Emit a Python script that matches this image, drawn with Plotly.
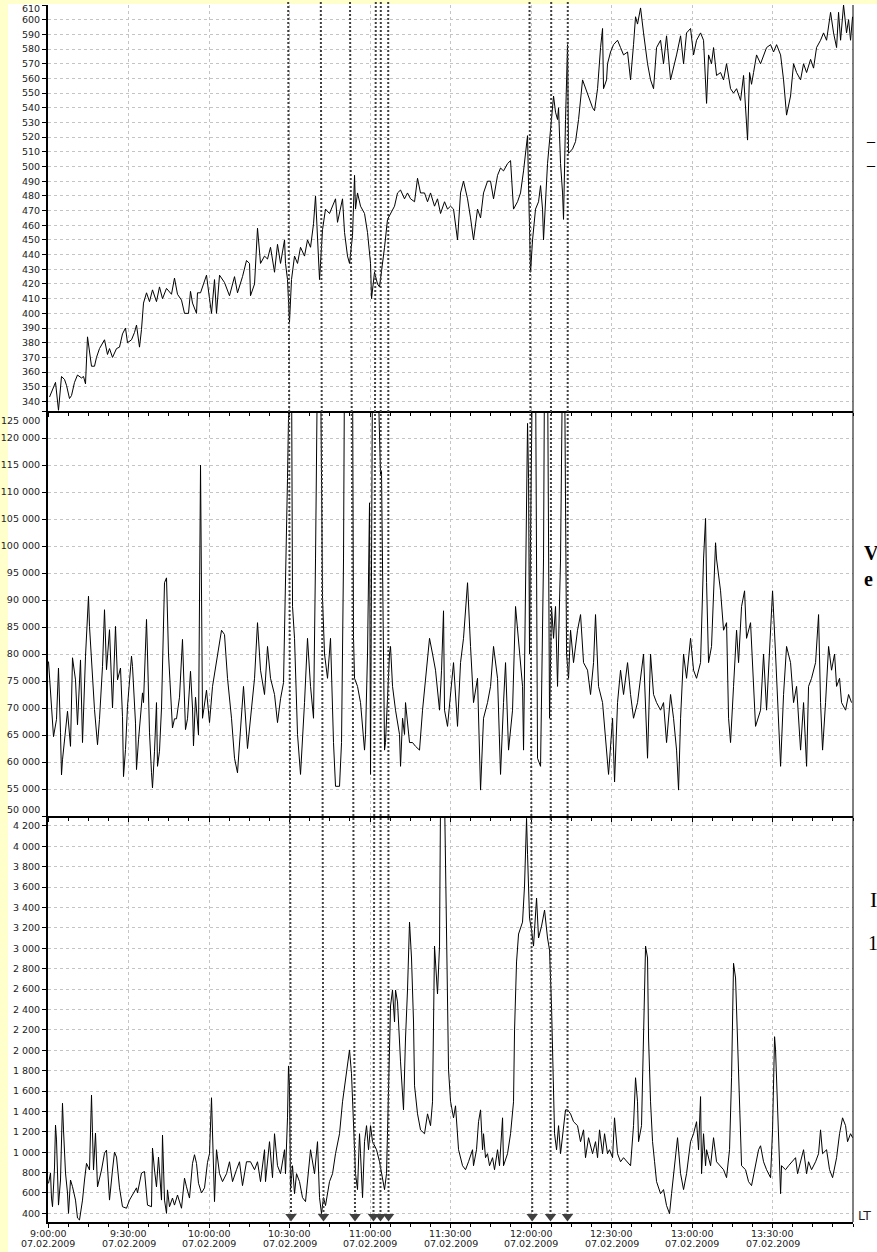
import plotly.graph_objects as go
import pandas as pd

BASE = pd.Timestamp("2009-02-07 09:00:00")

# ---- data: minutes after 9:00 and values ----
top_t = [0.56, 2.80, 3.91, 5.03, 6.15, 6.89, 8.01, 8.76, 9.88, 10.99, 12.48, 13.23, 13.98, 14.72, 16.21, 17.33,
         18.07, 19.19, 21.06, 22.17, 22.92, 24.04, 25.53, 26.65, 27.76, 28.88, 29.63, 31.12, 32.24, 32.98, 34.10,
         34.84, 35.59, 36.71, 37.83, 38.94, 40.43, 41.55, 42.67, 44.16, 46.02, 47.14, 48.26, 49.75, 50.87, 52.36,
         53.11, 53.85, 55.34, 55.71, 56.84, 57.95, 59.07, 60.19, 60.93, 62.05, 62.80, 63.92, 65.78, 67.64, 69.51,
         70.62, 72.49, 73.98, 75.10, 75.47, 76.97, 78.08, 79.20, 80.69, 81.81, 82.93, 84.42, 85.53, 86.66, 88.15,
         88.51, 89.26, 90.00, 90.75, 91.87, 92.99, 94.11, 95.60, 96.71, 97.84, 98.95, 99.70, 100.44, 101.19, 102.31,
         103.42, 104.91, 106.04, 107.15, 107.89, 109.02, 109.76, 110.51, 111.62, 112.37, 113.49, 114.24, 114.60,
         115.35, 116.47, 117.96, 119.08, 120.20, 120.57, 121.69, 122.80, 123.55, 123.93, 124.67, 125.42, 126.53,
         127.65, 129.14, 130.26, 131.38, 132.87, 133.98, 135.11, 136.60, 137.71, 138.83, 140.32, 141.44, 142.56,
         144.05, 145.16, 146.29, 147.78, 148.89, 150.01, 151.13, 152.62, 153.74, 154.85, 156.35, 157.47, 158.58,
         160.07, 161.20, 162.31, 163.80, 164.92, 166.04, 167.53, 168.65, 169.76, 171.25, 172.38, 173.49, 174.98,
         176.10, 177.22, 178.71, 179.09, 179.83, 180.58, 181.69, 182.81, 183.56, 184.30, 184.67, 186.16, 187.28,
         188.40, 189.14, 189.89, 190.27, 191.01, 191.76, 192.12, 192.87, 193.62, 193.99, 195.48, 196.60, 197.72,
         199.21, 200.32, 201.45, 202.94, 203.68, 204.80, 205.92, 206.67, 207.03, 208.16, 208.52, 209.65, 210.76,
         212.25, 213.37, 214.49, 215.98, 217.10, 218.21, 218.96, 219.70, 220.83, 221.94, 223.43, 224.55, 225.67,
         226.79, 228.28, 229.39, 230.52, 232.01, 233.12, 234.25, 235.74, 236.85, 237.97, 239.46, 240.58, 241.70,
         243.19, 244.30, 245.43, 246.17, 247.28, 248.03, 249.15, 250.64, 251.76, 252.88, 254.37, 255.48, 256.61,
         258.10, 259.21, 259.96, 260.70, 261.45, 262.19, 262.94, 264.06, 265.55, 266.67, 267.79, 269.28, 270.39,
         271.52, 273.01, 274.12, 275.24, 276.73, 277.85, 278.97, 280.46, 281.57, 282.70, 284.19, 285.30, 286.42,
         287.91, 289.03, 290.15, 291.64, 292.75, 293.88, 294.62, 295.37, 296.48, 297.60, 298.35, 299.09, 299.84]
top_v = [343, 353, 334, 357, 355, 351, 342, 344, 353, 358, 356, 357, 352, 384, 364, 364,
         370, 376, 382, 372, 376, 370, 376, 377, 386, 390, 380, 382, 387, 392, 377,
         389, 407, 414, 408, 416, 408, 418, 410, 417, 413, 424, 413, 409, 400, 400,
         415, 407, 400, 414, 414, 420, 426, 410, 400, 423, 400, 426, 421, 412, 425,
         414, 425, 436, 434, 412, 420, 458, 434, 439, 437, 445, 428, 447, 434, 450,
         434, 423, 394, 423, 439, 434, 445, 439, 450, 445, 461, 480, 450, 423, 457,
         471, 468, 473, 478, 462, 471, 478, 455, 439, 434, 453, 494, 471,
         482, 473, 468, 455, 434, 410, 428, 420, 418, 423, 434, 445, 464,
         468, 473, 482, 484, 478, 482, 478, 476, 492, 482, 482, 476, 482,
         473, 478, 468, 476, 471, 473, 471, 450, 482, 490, 478, 465, 450,
         471, 465, 482, 490, 490, 478, 494, 499, 497, 502, 504, 471, 476,
         482, 497, 521, 487, 428, 450, 471, 476, 487, 471, 450, 502, 524,
         548, 537, 532, 540, 502, 482, 464, 532, 583, 509, 512, 517, 532,
         559, 553, 548, 540, 538, 553, 581, 594, 553, 559, 570, 578, 583,
         586, 581, 576, 578, 559, 583, 602, 597, 608, 591, 570, 559, 553,
         581, 586, 570, 589, 559, 567, 576, 589, 570, 591, 594, 576, 586,
         591, 586, 543, 576, 570, 581, 562, 564, 559, 570, 553, 550, 553,
         545, 562, 543, 518, 564, 556, 564, 576, 570, 576, 581, 583, 578,
         583, 576, 559, 535, 548, 570, 564, 559, 570, 564, 573, 567, 581,
         586, 591, 586, 605, 591, 581, 605, 586, 610, 591, 600, 586, 602]

mid_t = [0.19, 0.93, 1.30, 2.05, 3.17, 3.54, 3.91, 4.66, 5.03, 5.40, 6.89, 7.27, 8.39, 8.76, 9.13, 10.25, 10.99,
         12.11, 12.48, 12.86, 13.98, 15.09, 15.47, 16.58, 17.33, 18.45, 19.19, 20.31, 21.06, 21.80, 22.92, 24.04,
         25.16, 25.90, 27.02, 27.76, 28.14, 28.88, 29.63, 31.12, 31.49, 32.61, 32.98, 33.73, 35.22, 35.59, 36.71,
         37.08, 37.83, 38.57, 38.94, 39.69, 40.43, 40.81, 41.55, 42.30, 43.42, 44.16, 44.91, 46.39, 47.14, 47.89,
         49.01, 50.12, 50.87, 51.24, 51.99, 53.11, 53.85, 54.22, 54.97, 56.09, 56.84, 57.58, 59.07, 60.19, 61.31,
         62.80, 64.66, 65.78, 66.90, 68.39, 69.51, 70.62, 72.12, 72.86, 74.35, 75.47, 76.97, 78.08, 79.20, 80.69,
         81.81, 82.93, 84.42, 85.53, 86.66, 87.77, 88.51, 89.26, 90.00, 90.75, 91.13, 91.87, 92.99, 94.11, 95.60,
         96.71, 97.84, 98.95, 99.70, 100.44, 101.56, 102.31, 103.05, 104.17, 105.29, 106.40, 107.15, 108.64,
         109.39, 110.13, 110.51, 113.49, 113.86, 114.24, 115.35, 116.47, 117.96, 118.33, 119.08, 119.82, 120.20,
         120.94, 122.80, 123.93, 124.29, 124.67, 125.42, 125.78, 126.53, 127.27, 127.65, 128.40, 129.51, 131.00,
         131.38, 132.13, 132.87, 133.24, 134.73, 135.85, 136.97, 138.46, 139.58, 140.69, 142.18, 143.31, 144.42,
         145.91, 146.66, 147.40, 147.78, 148.89, 150.01, 151.13, 152.62, 153.74, 154.85, 156.35, 157.47, 158.58,
         160.07, 161.20, 162.31, 163.80, 164.92, 166.04, 167.53, 168.65, 169.76, 170.51, 171.63, 173.12, 174.24,
         175.36, 176.85, 177.22, 177.96, 178.71, 179.09, 179.45, 179.83, 180.58, 181.69, 182.43, 183.56, 184.67,
         185.05, 186.16, 186.91, 187.65, 188.40, 189.14, 189.89, 191.01, 191.76, 192.50, 193.25, 193.99, 194.74,
         195.85, 197.34, 198.47, 199.58, 201.07, 202.19, 203.31, 204.05, 205.17, 206.67, 207.78, 208.90, 210.39,
         211.14, 212.25, 213.37, 214.49, 215.98, 217.10, 218.21, 219.70, 220.83, 221.94, 223.43, 224.55, 225.67,
         226.79, 228.28, 229.39, 230.52, 232.01, 233.12, 234.25, 234.99, 235.74, 236.85, 237.97, 239.46, 240.58,
         241.70, 243.19, 244.30, 245.05, 245.43, 246.17, 247.28, 248.78, 249.15, 250.64, 251.76, 252.88, 253.63,
         254.37, 255.48, 256.61, 257.35, 258.47, 259.59, 260.33, 261.82, 262.94, 263.68, 265.55, 266.67, 267.79,
         269.28, 270.02, 271.14, 272.26, 273.01, 274.12, 275.24, 276.73, 277.85, 278.97, 280.46, 281.57, 282.70,
         283.44, 284.55, 286.05, 287.17, 287.91, 288.66, 289.77, 290.90, 292.01, 293.13, 293.88, 294.99, 295.74,
         297.23, 298.35, 299.46]
mid_v = [78600, 72800, 68400, 64700, 67900, 74000, 77400, 65400, 57600, 60400, 67900, 69400, 62900, 71200, 79300,
         75200, 66900, 78900, 71000, 63600, 79600, 90700, 85100, 75800, 69700, 63200, 67900, 77700, 88200, 77100,
         84500, 70000, 85100, 75200, 77400, 68400, 57300, 62300, 70300, 79600, 77700, 67200, 58600, 64100, 72800,
         71000, 86400, 80000, 65400, 58000, 55200, 62000, 71000, 59200, 62000, 70000, 93200, 94100, 80000, 66300,
         68000, 68000, 72000, 82700, 73000, 66000, 68000, 76800, 70000, 63000, 72000, 65000, 115000, 68100, 73300,
         67300, 74000, 78400, 84400, 83600, 75500, 68100, 60700, 58000, 68100, 74000, 62500, 68100, 75500, 85800,
         77000, 72500, 81400, 75500, 72500, 67300, 71700, 74700, 97600, 112500, 135000, 135000, 88800, 82900, 65100,
         57700, 71000, 82900, 74000, 68100, 97600, 135000, 135000, 90300, 80000, 75500, 82900, 63600, 55500, 55500,
         63600, 97600, 135000, 135000, 82900, 75500, 74000, 71000, 62200, 65100, 80000, 108000, 57700,
         135000, 135000, 113200, 113900, 97600, 62200, 63600, 72500, 80000, 81400, 74000, 69600, 65100,
         59200, 68100, 65100, 71000, 63600, 63600, 62900, 62200, 69600, 75500, 82900, 80000, 77000,
         69600, 77000, 88000, 69600, 66600, 72500, 78400, 66600, 78400, 82900, 93200, 81400, 71000,
         75500, 54800, 68100, 71000, 74000, 81400, 75500, 57700, 71000, 78400, 62200, 69600, 88800,
         82900, 74000, 62200, 97600, 122700, 112500, 80000, 102100, 135000, 135000, 60700, 59200, 97600,
         135000, 135000, 68100, 88800, 82900, 88800, 74000, 97600, 135000, 135000, 80000, 75500, 84400,
         78400, 84400, 87300, 78400, 77000, 72500, 78400, 87300, 74000, 71000, 63600, 57700, 68100,
         56300, 71000, 77000, 72500, 78400, 72500, 68100, 71000, 75500, 80000, 60700, 80000, 72500,
         71000, 69600, 71000, 63600, 72500, 68100, 62200, 54800, 68100, 80000, 75500, 82900, 77000,
         75500, 78400, 97600, 105100, 93200, 78400, 81400, 100600, 97600, 91700, 84400, 85800, 68100,
         63600, 74000, 84400, 78400, 88800, 91700, 82900, 85800, 74000, 66600, 69600, 80000, 69600,
         82900, 91700, 80000, 68100, 59200, 72500, 81400, 78400, 71000, 74000, 62200, 71000, 59200,
         74000, 75500, 78400, 87300, 71000, 62200, 71000, 81400, 77000, 80000, 74000, 75500, 71000,
         69600, 72500, 71000]

bot_t = [0.19, 0.93, 1.30, 1.68, 2.42, 2.80, 3.17, 3.54, 3.91, 4.66, 5.03, 5.40, 5.78, 6.52, 7.27, 7.64, 8.39,
         9.13, 10.25, 10.99, 11.74, 12.86, 13.61, 14.35, 15.47, 15.84, 16.21, 16.58, 16.96, 17.70, 18.45, 19.94,
         21.06, 21.80, 22.92, 24.04, 24.78, 25.53, 26.65, 27.76, 29.25, 30.37, 31.49, 32.98, 33.35, 34.84, 35.96,
         37.08, 38.57, 38.94, 39.69, 40.43, 41.18, 42.30, 42.67, 43.42, 44.16, 44.53, 45.28, 46.39, 47.14, 48.26,
         49.75, 50.87, 51.61, 52.73, 53.85, 54.60, 55.34, 56.09, 57.21, 58.33, 59.44, 60.19, 60.93, 61.31, 62.05,
         62.80, 63.92, 65.04, 66.53, 67.64, 68.77, 70.26, 71.37, 72.49, 73.98, 75.47, 76.97, 78.08, 79.20, 80.69,
         81.06, 82.55, 83.67, 84.42, 85.53, 86.66, 88.15, 88.51, 89.26, 89.63, 90.00, 90.38, 91.12, 91.87, 92.62,
         93.73, 94.85, 95.97, 97.09, 97.84, 99.33, 100.44, 101.19, 101.93, 102.68, 103.42, 104.91, 106.04, 107.15,
         108.64, 109.76, 111.62, 112.37, 113.11, 113.86, 114.60, 115.35, 116.09, 116.47, 117.22, 117.96, 118.71,
         119.45, 120.20, 120.94, 121.69, 122.43, 123.55, 124.67, 125.42, 126.16, 126.91, 127.65, 128.39, 129.14,
         129.51, 130.26, 131.38, 132.49, 133.24, 133.98, 134.73, 135.47, 136.22, 136.60, 137.71, 138.83, 140.32,
         141.44, 142.56, 143.30, 144.05, 144.80, 145.16, 145.91, 146.29, 147.78, 148.52, 149.27, 150.01, 151.13,
         151.87, 153.00, 154.49, 155.60, 156.72, 158.21, 158.58, 159.70, 160.45, 161.20, 161.94, 162.31, 163.05,
         163.80, 164.55, 165.67, 166.41, 167.53, 168.27, 169.40, 169.76, 171.25, 172.38, 173.49, 173.87, 174.61,
         175.36, 176.84, 177.59, 178.34, 178.71, 179.45, 180.20, 180.94, 182.07, 182.81, 183.93, 185.05, 186.16,
         186.91, 187.65, 188.40, 188.78, 189.52, 190.27, 191.01, 191.76, 192.87, 193.62, 194.74, 195.85, 197.34,
         198.46, 199.58, 200.32, 201.45, 202.94, 204.05, 204.80, 205.54, 206.67, 207.41, 208.52, 209.27, 210.39,
         211.13, 212.25, 213.37, 214.49, 215.98, 217.10, 218.21, 218.96, 219.70, 220.08, 221.19, 221.94, 222.69,
         223.43, 223.81, 224.55, 225.30, 226.05, 226.79, 228.28, 229.39, 230.52, 231.63, 232.38, 233.87, 234.61,
         235.74, 236.85, 237.97, 239.46, 240.58, 241.70, 242.44, 243.19, 243.56, 244.30, 245.05, 245.43, 246.92,
         248.03, 249.15, 250.64, 251.76, 252.88, 253.99, 254.74, 255.48, 256.23, 256.61, 257.72, 258.47, 259.96,
         261.08, 262.19, 263.68, 264.81, 265.55, 266.67, 267.79, 269.28, 270.02, 270.77, 271.14, 271.88, 272.63,
         273.01, 273.37, 274.86, 275.99, 277.10, 278.59, 279.34, 280.46, 281.57, 282.70, 283.44, 284.56, 286.05,
         287.16, 287.91, 288.66, 290.15, 291.26, 292.39, 293.88, 294.99, 296.11, 297.23, 297.97, 299.09, 299.84]
bot_v = [694, 795, 550, 465, 845, 1266, 1120, 695, 481, 727, 1090, 1480, 1218, 795, 600, 400, 727,
         661, 530, 354, 335, 530, 727, 890, 825, 1190, 1561, 1190, 825, 1187, 660, 825,
         990, 1020, 530, 825, 1000, 952, 650, 465, 450, 530, 580, 650, 600, 795, 810,
         481, 465, 1040, 825, 660, 952, 530, 1168, 530, 400, 630, 465, 550, 481, 580,
         450, 745, 660, 550, 890, 975, 890, 695, 600, 650, 900, 985, 1534, 1181, 515,
         1024, 789, 711, 789, 906, 711, 828, 906, 672, 906, 906, 828, 906, 711, 1024,
         711, 1103, 750, 1181, 867, 789, 1024, 789, 1337, 1846, 1651, 633, 867, 593, 789,
         711, 554, 515, 789, 1024, 789, 1103, 554, 397, 554, 476, 711, 789, 985,
         1181, 1494, 1846, 2003, 1769, 1260, 789, 633, 1181, 985, 554, 1103, 1260,
         1024, 1260, 1103, 1063, 1024, 906, 750, 633, 789, 1494, 2434, 2591, 2277,
         2591, 2474, 1886, 1415, 2120, 2591, 3257, 2905, 2277, 1651, 1376, 1219, 1181,
         1376, 1260, 1494, 3022, 2670, 2552, 3022, 4500, 4500, 2905, 1807, 1500, 1337,
         1455, 1024, 867, 828, 906, 1024, 867, 1024, 1299, 1415, 1024, 1181, 946,
         985, 867, 946, 828, 1024, 867, 1337, 867, 985, 1181, 1494, 2199, 2866,
         3140, 3257, 3611, 4275, 3923, 3296, 3180, 3022, 3493, 3101, 3218, 3375, 3101,
         2983, 2434, 1494, 1181, 1024, 1260, 985, 1181, 1415, 1415, 1376, 1299, 1260,
         1103, 1219, 946, 1142, 985, 1103, 946, 1219, 985, 1181, 985, 1024, 946,
         1337, 985, 906, 946, 906, 867, 1260, 1730, 1494, 1103, 1260, 2120, 3022,
         2905, 2120, 1494, 1103, 906, 711, 593, 633, 476, 397, 593, 946, 1142,
         789, 633, 789, 1103, 1181, 1299, 1024, 1545, 789, 1181, 867, 1024, 867,
         1142, 906, 867, 828, 750, 1024, 1730, 2853, 2709, 2395, 1572, 867, 828,
         711, 672, 867, 1024, 1063, 906, 828, 750, 1219, 2133, 2003, 1494, 946,
         593, 867, 828, 867, 906, 946, 789, 906, 1024, 789, 906, 828, 906,
         985, 1219, 985, 1024, 828, 750, 946, 1181, 1337, 1260, 1103, 1181, 1142]

# marked events (minutes after 9:00): where each dotted marker line starts (top) and ends (arrow)
event_top_t = [89.51, 101.67, 112.55, 122.16, 124.03, 126.78, 179.45, 187.53, 193.71]
event_bot_t = [90.56, 102.67, 114.41, 121.30, 123.91, 126.90, 180.45, 187.27, 193.60]

# axis settings (values)
top_ticks = list(range(340, 611, 10))
mid_ticks = list(range(50000, 125001, 5000))
bot_ticks = list(range(400, 4201, 200))
x_ticks_min = list(range(0, 271, 30))
TOP_RANGE = [333.5, 610]
MID_RANGE = [50000, 125000]
BOT_RANGE = [315, 4298]
X_END_MIN = 300
DATE_LABEL = "07.02.2009"


def to_time(mins):
    return [BASE + pd.Timedelta(minutes=m) for m in mins]


def fmt(v):
    return f"{v:,}".replace(",", " ")


FONT = dict(family="DejaVu Sans", size=9.5, color="#222222")
GRID = "#c4c4c4"

fig = go.Figure()
line_style = dict(color="#000000", width=1)
fig.add_trace(go.Scatter(x=to_time(top_t), y=top_v, mode="lines", line=line_style, xaxis="x3", yaxis="y3",
                         showlegend=False, hoverinfo="skip"))
fig.add_trace(go.Scatter(x=to_time(mid_t), y=mid_v, mode="lines", line=line_style, xaxis="x2", yaxis="y2",
                         showlegend=False, hoverinfo="skip"))
fig.add_trace(go.Scatter(x=to_time(bot_t), y=bot_v, mode="lines", line=line_style, xaxis="x", yaxis="y",
                         showlegend=False, hoverinfo="skip"))

# triangles at the bottom of each event line
tri_y = BOT_RANGE[0] + 5.5 * (BOT_RANGE[1] - BOT_RANGE[0]) / 406
fig.add_trace(go.Scatter(x=to_time(event_bot_t), y=[tri_y] * len(event_bot_t), mode="markers",
                         marker=dict(symbol="triangle-down", size=10, color="#404040", line=dict(width=0)),
                         cliponaxis=False, xaxis="x", yaxis="y", showlegend=False, hoverinfo="skip"))

x_range = [BASE, BASE + pd.Timedelta(minutes=X_END_MIN)]
tickvals = to_time(x_ticks_min)

H = 1217.0
d_bot = [0, (1222 - 816) / H]
d_mid = [(1222 - 816) / H, (1222 - 411) / H]
d_top = [(1222 - 411) / H, 1]

xcommon = dict(range=x_range, tickmode="array", tickvals=tickvals, ticks="outside", ticklen=4,
               tickcolor="#000", showline=True, linecolor="#000", linewidth=2, showgrid=True,
               gridcolor=GRID, griddash="3px,3px", gridwidth=1, zeroline=False, tickfont=FONT,
               automargin=False, showticklabels=False,
               minor=dict(tickmode="linear", tick0=str(BASE), dtick=450000, ticks="outside", ticklen=3,
                          tickcolor="#000", showgrid=False))


def ycommon(rng, ticks, hide=()):
    return dict(range=rng, tickmode="array", tickvals=ticks,
                ticktext=["" if v in hide else fmt(v) for v in ticks],
                ticks="outside", ticklen=4, tickcolor="#000", showline=True, linecolor="#000", linewidth=2,
                showgrid=True, gridcolor=GRID, griddash="3px,3px", gridwidth=1, zeroline=False, tickfont=FONT,
                automargin=False)


fig.update_layout(
    width=877, height=1252,
    margin=dict(l=48, r=24, t=5, b=30),
    paper_bgcolor="#ffffff", plot_bgcolor="#ffffff",
    showlegend=False,
    xaxis=dict(**xcommon, anchor="y", domain=[0, 1]),
    xaxis2=dict(**xcommon, anchor="y2", domain=[0, 1], matches="x"),
    xaxis3=dict(**xcommon, anchor="y3", domain=[0, 1], matches="x"),
    yaxis=dict(**ycommon(BOT_RANGE, bot_ticks), anchor="x", domain=d_bot),
    yaxis2=dict(**ycommon(MID_RANGE, mid_ticks, hide=(125000, 50000)), anchor="x2", domain=d_mid),
    yaxis3=dict(**ycommon(TOP_RANGE, top_ticks, hide=(610,)), anchor="x3", domain=d_top),
)

# x tick labels (time line + date line, tightly spaced as in the original)
for m, tv in zip(x_ticks_min, tickvals):
    fig.add_annotation(xref="x", x=tv, yref="paper", y=0, yanchor="middle", yshift=-11.5,
                       text=f"{tv.hour}:{tv.minute:02d}:00", showarrow=False, font=FONT)
    fig.add_annotation(xref="x", x=tv, yref="paper", y=0, yanchor="middle", yshift=-21.5,
                       text=DATE_LABEL, showarrow=False, font=FONT)

# nudged edge labels
for yref, val, shift in [("y2", 125000, -9), ("y2", 50000, 7), ("y3", 610, -3)]:
    fig.add_annotation(xref="paper", x=0, xanchor="right", xshift=-6, yref=yref, y=val, yshift=shift,
                       text=fmt(val), showarrow=False, font=FONT)

fig.add_annotation(xref="paper", x=1, xanchor="left", xshift=3, yref="paper", y=0, yanchor="middle", yshift=7,
                   text="LT", showarrow=False, font=dict(family="DejaVu Sans", size=12.5, color="#222"))

# text of a neighbouring page column at the right edge
for txt, xpx, ypx, bold, size in [("–", 864, 141, False, 16), ("–", 864, 165, False, 16),
                                   ("V<br>e", 862, 566, True, 20),
                                   ("I", 868, 899, False, 22), ("1", 866, 943, False, 20)]:
    fig.add_annotation(xref="paper", x=(xpx - 48) / 805, xanchor="left", yref="paper", y=(1222 - ypx) / H,
                       yanchor="middle", align="left", text=f"<b>{txt}</b>" if bold else txt, showarrow=False,
                       font=dict(family="Liberation Serif", size=size, color="#000"))

shapes = []
# pale yellow page edges
shapes.append(dict(type="rect", xref="paper", yref="paper", x0=-48 / 805, x1=-40 / 805, y0=-30 / H, y1=1 + 5 / H,
                   fillcolor="#FFFFCC", line=dict(width=0), layer="below"))
shapes.append(dict(type="rect", xref="paper", yref="paper", x0=-48 / 805, x1=829 / 805, y0=1 + 1 / H, y1=1 + 5 / H,
                   fillcolor="#FFFFCC", line=dict(width=0), layer="below"))
# right border
shapes.append(dict(type="line", xref="paper", yref="paper", x0=1, x1=1, y0=0, y1=1,
                   line=dict(color="#000", width=1), layer="above"))
# dotted event lines
for t0, t1 in zip(event_top_t, event_bot_t):
    shapes.append(dict(type="line", xref="x", yref="paper",
                       x0=BASE + pd.Timedelta(minutes=t1), y0=10 / H,
                       x1=BASE + pd.Timedelta(minutes=t0), y1=1 + 5 / H,
                       line=dict(color="#404040", width=2, dash="2px,2px"), layer="above"))
fig.update_layout(shapes=shapes)

fig.write_html("out.html")
